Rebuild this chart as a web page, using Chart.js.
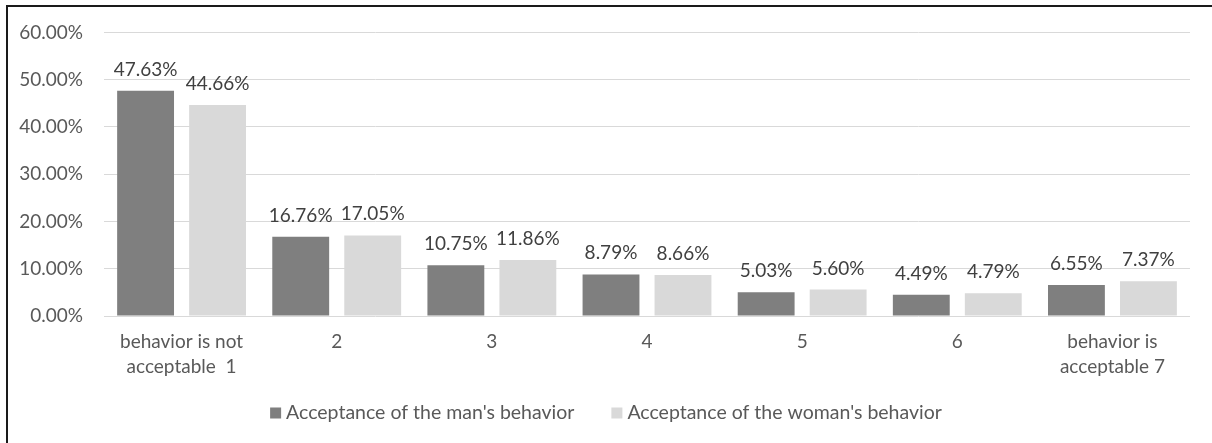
<!DOCTYPE html>
<html>
<head>
<meta charset="utf-8">
<script src="https://cdn.jsdelivr.net/npm/chart.js@4/dist/chart.umd.min.js"></script>
<style>
  html, body { margin: 0; padding: 0; background: #ffffff; }
  #wrap { position: relative; width: 1212px; height: 443px; }
</style>
</head>
<body>
<div id="wrap"><canvas id="chart"></canvas></div>
<script>
// Rating scale categories (1 = not acceptable ... 7 = acceptable)
const categories = [
  ['behavior is not', 'acceptable  1'],
  '2', '3', '4', '5', '6',
  ['behavior is', 'acceptable 7']
];

// Share of respondents per rating, in percent
const manAcceptance   = [47.63, 16.76, 10.75, 8.79, 5.03, 4.49, 6.55];
const womanAcceptance = [44.66, 17.05, 11.86, 8.66, 5.60, 4.79, 7.37];

const seriesNames = ["Acceptance of the man's behavior", "Acceptance of the woman's behavior"];
const yTicks = [0, 10, 20, 30, 40, 50, 60];

const FONT = 'Lato, "Open Sans", sans-serif';
const FS = 19;

// Value labels above each bar
const valueLabels = {
  id: 'valueLabels',
  afterDatasetsDraw(chart) {
    const ctx = chart.ctx;
    ctx.save();
    ctx.font = FS + 'px ' + FONT;
    ctx.fillStyle = '#404040';
    ctx.textAlign = 'center';
    ctx.textBaseline = 'alphabetic';
    chart.data.datasets.forEach((ds, di) => {
      chart.getDatasetMeta(di).data.forEach((bar, i) => {
        ctx.fillText(ds.data[i].toFixed(2) + '%', bar.x, bar.y - 15);
      });
    });
    ctx.restore();
  }
};

// Legend row and the frame lines around the chart
const frameAndLegend = {
  id: 'frameAndLegend',
  afterDraw(chart) {
    const ctx = chart.ctx;
    ctx.save();
    ctx.strokeStyle = '#1a1a1a';
    ctx.lineWidth = 2;
    ctx.beginPath();
    ctx.moveTo(7, 443);
    ctx.lineTo(7, 6);
    ctx.lineTo(1212, 6);
    ctx.stroke();

    ctx.font = '19.5px ' + FONT;
    ctx.textBaseline = 'middle';
    ctx.textAlign = 'left';
    const box = 11, gap = 5, itemGap = 37, cy = 413;
    const items = chart.data.datasets.map(ds => ({
      label: ds.label, color: ds.backgroundColor, w: box + gap + ctx.measureText(ds.label).width
    }));
    const total = items.reduce((s, it) => s + it.w, 0) + itemGap * (items.length - 1);
    let x = 606 - total / 2;
    items.forEach(it => {
      ctx.fillStyle = it.color;
      ctx.fillRect(x, cy - box / 2, box, box);
      ctx.fillStyle = '#595959';
      ctx.fillText(it.label, x + box + gap, cy);
      x += it.w + itemGap;
    });
    ctx.restore();
  }
};

new Chart(document.getElementById('chart'), {
  type: 'bar',
  data: {
    labels: categories,
    datasets: [
      { label: seriesNames[0], data: manAcceptance, backgroundColor: '#7f7f7f',
        categoryPercentage: 0.928, barPercentage: 0.79 },
      { label: seriesNames[1], data: womanAcceptance, backgroundColor: '#d9d9d9',
        categoryPercentage: 0.928, barPercentage: 0.79 }
    ]
  },
  options: {
    responsive: true,
    maintainAspectRatio: false,
    animation: false,
    layout: { padding: { left: 0, right: 22, top: 31, bottom: 0 } },
    plugins: {
      legend: { display: false },
      tooltip: { enabled: false }
    },
    scales: {
      x: {
        grid: { display: false, drawTicks: false },
        border: { display: false },
        ticks: {
          color: '#595959',
          font: { family: FONT, size: FS, lineHeight: 1.3 },
          padding: 14,
          maxRotation: 0,
          autoSkip: false
        },
        afterFit(scale) { scale.height = 127; }
      },
      y: {
        min: 0,
        max: 60,
        afterBuildTicks(scale) { scale.ticks = yTicks.map(v => ({ value: v })); },
        grid: { color: '#d9d9d9', lineWidth: 1, drawTicks: false },
        border: { display: false },
        ticks: {
          color: '#595959',
          font: { family: FONT, size: FS },
          padding: 21,
          callback: v => v.toFixed(2) + '%'
        },
        afterFit(scale) { scale.width = 104; }
      }
    }
  },
  plugins: [valueLabels, frameAndLegend]
});
</script>
</body>
</html>
